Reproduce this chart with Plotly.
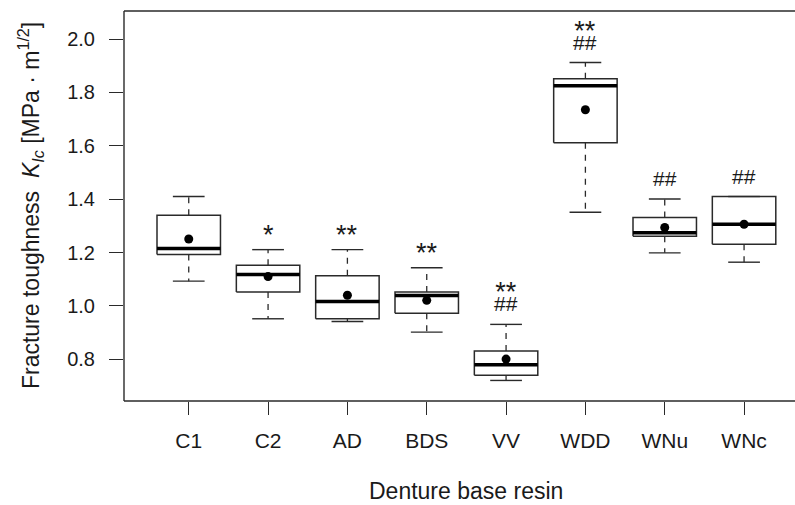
import plotly.graph_objects as go

categories = ["C1", "C2", "AD", "BDS", "VV", "WDD", "WNu", "WNc"]
whisker_low = [1.093, 0.952, 0.942, 0.902, 0.721, 1.351, 1.199, 1.164]
q1 = [1.193, 1.052, 0.952, 0.973, 0.740, 1.611, 1.261, 1.231]
median = [1.215, 1.118, 1.017, 1.039, 0.780, 1.825, 1.274, 1.306]
q3 = [1.340, 1.153, 1.113, 1.052, 0.831, 1.851, 1.331, 1.410]
whisker_high = [1.410, 1.211, 1.211, 1.143, 0.931, 1.912, 1.401, 1.410]
means = [1.251, 1.110, 1.040, 1.021, 0.801, 1.735, 1.294, 1.306]
sig_vs_c1 = ["", "*", "**", "**", "**", "**", "", ""]
sig_vs_c2 = ["", "", "", "", "##", "##", "##", "##"]
y_ticks = [0.8, 1.0, 1.2, 1.4, 1.6, 1.8, 2.0]

FONT = "Liberation Sans, Arial, Helvetica, sans-serif"
INK = "#1a1a1a"
LINE = "#2a2a2a"
BOX_HALF = 0.4
CAP_HALF = 0.2

xs = list(range(1, len(categories) + 1))

fig = go.Figure()

# boxes
bx, by = [], []
for x, lo, hi in zip(xs, q1, q3):
    bx += [x - BOX_HALF, x + BOX_HALF, x + BOX_HALF, x - BOX_HALF, x - BOX_HALF, None]
    by += [lo, lo, hi, hi, lo, None]
fig.add_trace(go.Scatter(x=bx, y=by, mode="lines", line=dict(color=LINE, width=1.5),
                         hoverinfo="skip", showlegend=False))

# whiskers (dashed)
wx, wy = [], []
for x, lo, hi, wl, wh in zip(xs, q1, q3, whisker_low, whisker_high):
    wx += [x, x, None, x, x, None]
    wy += [hi, wh, None, lo, wl, None]
fig.add_trace(go.Scatter(x=wx, y=wy, mode="lines",
                         line=dict(color=LINE, width=1.3, dash="6px,6px"),
                         hoverinfo="skip", showlegend=False))

# caps
cx, cy = [], []
for x, wl, wh in zip(xs, whisker_low, whisker_high):
    cx += [x - CAP_HALF, x + CAP_HALF, None, x - CAP_HALF, x + CAP_HALF, None]
    cy += [wh, wh, None, wl, wl, None]
fig.add_trace(go.Scatter(x=cx, y=cy, mode="lines", line=dict(color=LINE, width=1.4),
                         hoverinfo="skip", showlegend=False))

# medians
mx, my = [], []
for x, m in zip(xs, median):
    mx += [x - BOX_HALF, x + BOX_HALF, None]
    my += [m, m, None]
fig.add_trace(go.Scatter(x=mx, y=my, mode="lines", line=dict(color="black", width=3.5),
                         hoverinfo="skip", showlegend=False))

# means
fig.add_trace(go.Scatter(x=xs, y=means, mode="markers",
                         marker=dict(color="black", size=9),
                         hoverinfo="skip", showlegend=False))

# significance labels (one text block per group, stacked lines)
STAR = "<span style='font-size:27px'>{}</span>"
HASH = "<span style='font-size:21px'>{}</span>"
for x, wh, s1, s2 in zip(xs, whisker_high, sig_vs_c1, sig_vs_c2):
    parts = []
    if s1:
        parts.append(STAR.format(s1))
    if s2:
        parts.append(HASH.format(s2))
    if not parts:
        continue
    shift = 7 if s2 else -2.5
    fig.add_annotation(x=x, y=wh, xref="x", yref="y", text="<br>".join(parts),
                       showarrow=False, yanchor="bottom", yshift=shift,
                       font=dict(family=FONT, size=7.6, color=INK))

# axis titles
fig.add_annotation(x=4.5, xref="x", y=-0.2308, yref="paper", yanchor="middle",
                   text="Denture base resin", showarrow=False,
                   font=dict(family=FONT, size=23, color=INK))
fig.add_annotation(x=-0.14, xref="paper", y=0.5, yref="paper", textangle=-90,
                   xanchor="center", yanchor="middle", showarrow=False,
                   text="Fracture toughness\u00a0\u00a0<i>K</i><sub><i>Ic</i></sub>\u00a0[MPa\u00a0·\u00a0m<sup>1/2</sup>]",
                   font=dict(family=FONT, size=23, color=INK))

# frame
for sh in [dict(x0=0, x1=1, y0=1, y1=1), dict(x0=0, x1=1, y0=0, y1=0), dict(x0=0, x1=0, y0=0, y1=1)]:
    fig.add_shape(type="line", xref="paper", yref="paper", line=dict(color=LINE, width=1.4), **sh)

fig.update_layout(
    width=795, height=505,
    margin=dict(l=124, r=0, t=11, b=104),
    paper_bgcolor="white", plot_bgcolor="white",
    font=dict(family=FONT, size=20, color=INK),
    showlegend=False,
    xaxis=dict(range=[0.184, 8.642], tickmode="array", tickvals=xs, ticktext=categories,
               ticks="outside", ticklen=13, tickwidth=1.3, tickcolor=LINE,
               showgrid=False, zeroline=False, showline=False,
               ticklabelstandoff=8, tickfont=dict(family=FONT, size=21, color=INK)),
    yaxis=dict(range=[0.644, 2.105], tickmode="array", tickvals=y_ticks,
               ticktext=[f"{v:.1f}" for v in y_ticks],
               ticks="outside", ticklen=14, tickwidth=1.3, tickcolor=LINE,
               showgrid=False, zeroline=False, showline=False,
               ticklabelstandoff=10, tickfont=dict(family=FONT, size=20, color=INK)),
)

fig.write_html("out.html")
